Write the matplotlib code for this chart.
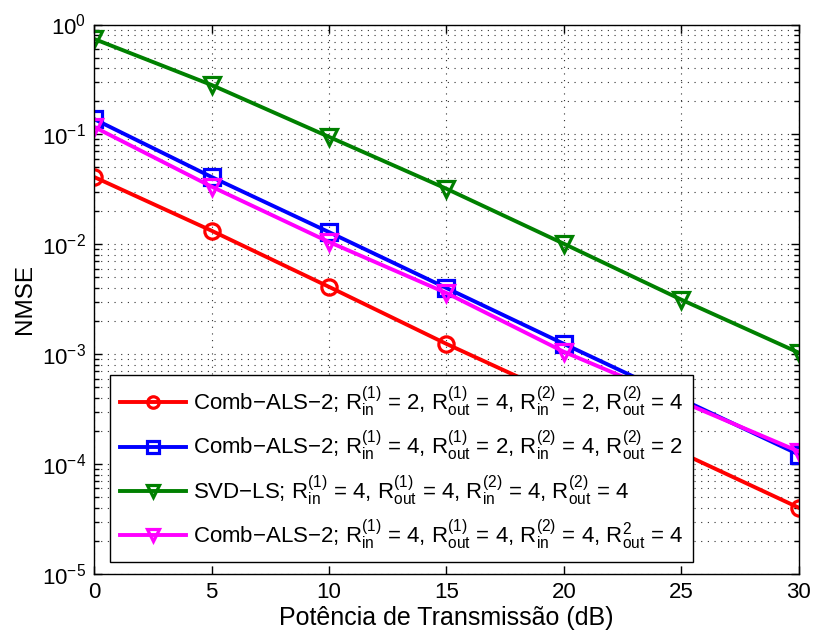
import matplotlib
matplotlib.use("Agg")
import matplotlib.pyplot as plt
from matplotlib.ticker import LogLocator, NullFormatter

plt.rcParams['font.family'] = ['Liberation Sans', 'DejaVu Sans']
plt.rcParams['mathtext.fontset'] = 'custom'
plt.rcParams['mathtext.rm'] = 'Liberation Sans'
plt.rcParams['mathtext.it'] = 'Liberation Sans'
plt.rcParams['mathtext.bf'] = 'Liberation Sans:bold'

# Transmit power (dB)
snr_db = [0, 5, 10, 15, 20, 25, 30]

# NMSE per method
nmse_comb_2424 = [0.041, 0.0133, 0.0041, 0.00124, 0.00040, 0.000126, 0.000040]
nmse_comb_4242 = [0.138, 0.041, 0.0129, 0.0040, 0.00124, 0.00039, 0.000122]
nmse_svd_ls = [0.74, 0.282, 0.095, 0.032, 0.0101, 0.00313, 0.00103]
nmse_comb_4444 = [0.117, 0.0335, 0.0105, 0.0036, 0.00105, 0.00037, 0.000130]

labels = [
    r'Comb$-$ALS$-$2; R$_{\rm in}^{(1)}$ = 2, R$_{\rm out}^{(1)}$ = 4, R$_{\rm in}^{(2)}$ = 2, R$_{\rm out}^{(2)}$ = 4',
    r'Comb$-$ALS$-$2; R$_{\rm in}^{(1)}$ = 4, R$_{\rm out}^{(1)}$ = 2, R$_{\rm in}^{(2)}$ = 4, R$_{\rm out}^{(2)}$ = 2',
    r'SVD$-$LS; R$_{\rm in}^{(1)}$ = 4, R$_{\rm out}^{(1)}$ = 4, R$_{\rm in}^{(2)}$ = 4, R$_{\rm out}^{(2)}$ = 4',
    r'Comb$-$ALS$-$2; R$_{\rm in}^{(1)}$ = 4, R$_{\rm out}^{(1)}$ = 4, R$_{\rm in}^{(2)}$ = 4, R$_{\rm out}^{2}$ = 4',
]

fig = plt.figure(figsize=(8.14, 6.37), dpi=100)
ax = fig.add_axes([0.1155, 0.099, 0.866, 0.8625])

style = dict(lw=2.8, ms=11, mew=2.3, mfc='none')
ax.semilogy(snr_db, nmse_comb_2424, color='#FF0000', marker='o', label=labels[0], **style)
ax.semilogy(snr_db, nmse_comb_4242, color='#0000FF', marker='s', label=labels[1], **style)
ax.semilogy(snr_db, nmse_svd_ls, color='#008000', marker='v', label=labels[2], **style)
ax.semilogy(snr_db, nmse_comb_4444, color='#FF00FF', marker='v', label=labels[3], **style)

ax.set_xlim(0, 30)
ax.set_ylim(1e-5, 1e0)
ax.set_xticks([0, 5, 10, 15, 20, 25, 30])
ax.yaxis.set_major_locator(LogLocator(base=10, numticks=10))
ax.yaxis.set_minor_locator(LogLocator(base=10, subs=range(2, 10), numticks=20))
ax.yaxis.set_minor_formatter(NullFormatter())

ax.grid(True, which='major', axis='both', linestyle=(0, (1, 5)), color='#303030', lw=0.8)
ax.grid(True, which='minor', axis='y', linestyle=(0, (1, 5)), color='#303030', lw=0.8)

ax.tick_params(which='both', direction='in', top=True, right=True, labelsize=16)
ax.tick_params(which='major', length=6, width=1, pad=6)
ax.tick_params(which='minor', length=3.5, width=1)
for s in ax.spines.values():
    s.set_linewidth(1.0)

ax.set_xlabel('Potência de Transmissão (dB)', fontsize=18, labelpad=2)
ax.set_ylabel('NMSE', fontsize=17.5, labelpad=4)

leg = ax.legend(loc='lower left', bbox_to_anchor=(0.022, 0.022), fontsize=16,
                handlelength=3.0, markerscale=0.75, fancybox=False, framealpha=1,
                edgecolor='black', borderpad=0.45, labelspacing=0.45, handletextpad=0.3,
                borderaxespad=0)
leg.get_frame().set_linewidth(1.0)

fig.savefig('out.png', dpi=100)
